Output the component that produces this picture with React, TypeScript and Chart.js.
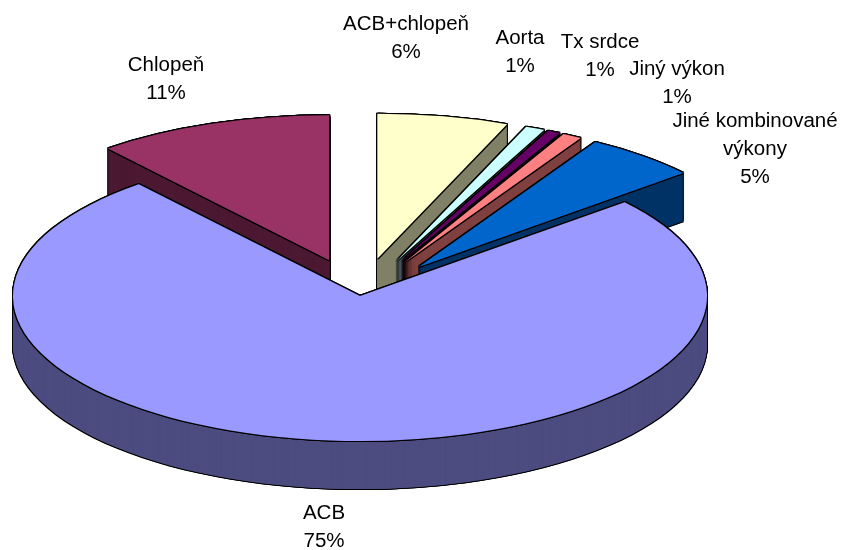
import React, { useEffect, useRef } from "react";
import { Chart, registerables } from "chart.js";

Chart.register(...registerables);

const categories = ["ACB+chlopeň", "Aorta", "Tx srdce", "Jiný výkon", "Jiné kombinované výkony", "ACB", "Chlopeň"];
const values = [6.1, 0.9, 0.6, 0.9, 5.3, 75.2, 11];
const topColors = ["#FFFFCC", "#CCFFFF", "#660066", "#FF8080", "#0066CC", "#9999FF", "#993366"];
const wallColors = ["#808066", "#668080", "#330033", "#804040", "#003366", "#4C4C80", "#4C1933"];
const explosion = [91, 91, 91, 91, 91, 0, 91];
const paintOrder = [6, 0, 1, 2, 3, 4, 5];
const labelLines = [["ACB+chlopeň"], ["Aorta"], ["Tx srdce"], ["Jiný výkon"], ["Jiné kombinované", "výkony"], ["ACB"], ["Chlopeň"]];
const labelCenters = [406, 520, 600, 677, 755, 324, 166];
const labelBaselines = [30, 44, 48, 75, 127, 519, 71];

const CX = 360;
const CY = 296;
const RADIUS = 347;
const SQUASH = 145 / 347;
const DEPTH = 48;
const LINE_HEIGHT = 28;
const total = values.reduce((a, b) => a + b, 0);

const pie3d = {
  id: "pie3d",
  beforeDatasetsDraw(chart: any) {
    const ctx = chart.ctx as CanvasRenderingContext2D;
    const arcs = chart.getDatasetMeta(0).data;
    const paint = (arc: any, i: number, color: string, dx: number, dy: number) => {
      const saved = arc.options;
      const half = (arc.startAngle + arc.endAngle) / 2;
      arc.options = { ...saved, backgroundColor: color, borderWidth: 0 };
      ctx.save();
      ctx.translate(CX + dx, CY + dy);
      ctx.scale(1, SQUASH);
      ctx.translate(Math.cos(half) * explosion[i], Math.sin(half) * explosion[i]);
      ctx.translate(-CX, -CY);
      arc.draw(ctx);
      ctx.restore();
      arc.options = saved;
    };
    const outline: [number, number][] = [[-1, 0], [1, 0], [0, -1], [0, 1], [-1, -1], [1, 1], [-1, 1], [1, -1]];
    for (const i of paintOrder) {
      const arc = arcs[i];
      for (let d = DEPTH; d >= 0; d -= 1) {
        for (const [dx, dy] of outline) paint(arc, i, "#000000", dx, d + dy);
      }
      for (let pass = 0; pass < 2; pass += 1) {
        for (let d = DEPTH; d >= 1; d -= 1) paint(arc, i, wallColors[i], 0, d);
      }
      for (const [dx, dy] of outline) paint(arc, i, "#000000", dx, dy);
      paint(arc, i, topColors[i], 0, 0);
    }
    return false;
  },
  afterDraw(chart: any) {
    const ctx = chart.ctx as CanvasRenderingContext2D;
    ctx.save();
    ctx.fillStyle = "#000000";
    ctx.font = '20.5px "Liberation Sans", Arial, sans-serif';
    ctx.textAlign = "center";
    ctx.textBaseline = "alphabetic";
    categories.forEach((_, i) => {
      const lines = [...labelLines[i], `${Math.round((values[i] / total) * 100)}%`];
      lines.forEach((line, n) => {
        ctx.fillText(line, labelCenters[i], labelBaselines[i] + n * LINE_HEIGHT);
      });
    });
    ctx.restore();
  },
};

export default function App() {
  const ref = useRef<HTMLCanvasElement>(null);
  useEffect(() => {
    document.body.style.margin = "0";
    document.body.style.background = "#ffffff";
    const chart = new Chart(ref.current!, {
      type: "pie",
      data: {
        labels: categories,
        datasets: [{ data: values, backgroundColor: topColors, borderWidth: 0 }],
      },
      options: {
        responsive: false,
        animation: false,
        radius: RADIUS,
        layout: { padding: { left: 0, right: 850 - 2 * CX, top: 2 * CY - 550, bottom: 0 } },
        plugins: { legend: { display: false }, tooltip: { enabled: false } },
      } as any,
      plugins: [pie3d],
    });
    return () => chart.destroy();
  }, []);
  return <canvas ref={ref} width={850} height={550} style={{ display: "block" }} />;
}
